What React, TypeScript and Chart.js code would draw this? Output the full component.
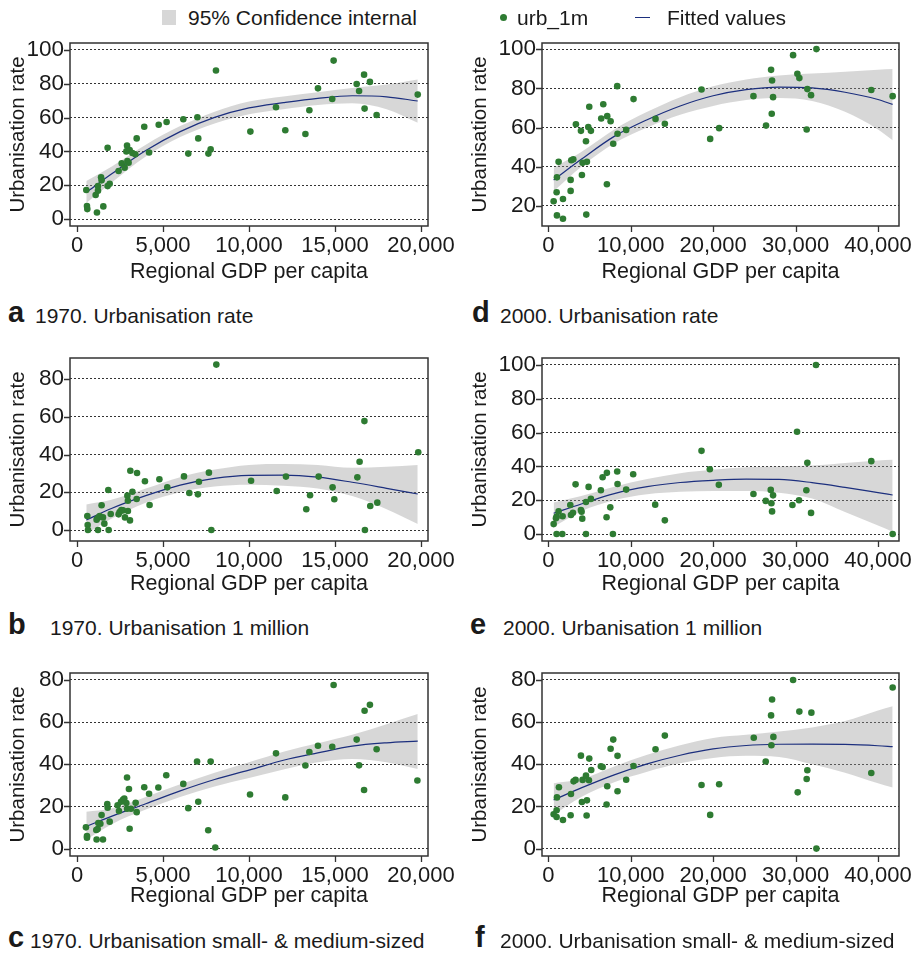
import React, { useEffect, useRef } from 'react';
import { Chart, registerables } from 'chart.js';
Chart.register(...registerables);

const FONT = "'Liberation Sans', Arial, Helvetica, sans-serif";
const GREEN = '#2e7b32';
const NAVY = '#1c2f7e';
const BAND = 'rgba(150,150,150,0.38)';
const TXT = '#1a1a1a';

// ---------- 1970 : panel a (urbanisation rate) ----------
const aGdp = [540,580,600,1085,1160,1220,1220,1400,1430,1530,1780,1780,1900,2420,2600,2770,2870,2910,2930,3000,3060,3220,3390,3470,3910,4190,4750,5210,6180,6470,7000,7050,7640,7770,8080,10080,11570,12110,13280,13510,14010,14840,14920,16260,16400,16690,16720,17030,17420,19810];
const aUrb = [17.2,7.7,5.9,14.2,3.9,16.8,19.5,24.7,22.9,7.5,42.2,19.5,20.9,28.4,32.9,30.4,40.0,43.4,34.3,33.3,40.8,39.1,38.3,47.7,54.6,39.4,55.8,57.4,59.0,38.7,60.2,47.7,38.7,41.2,87.8,51.7,66.1,52.5,50.3,64.3,77.3,71.0,93.7,79.9,75.7,85.4,65.3,81.1,61.5,73.6];
// ---------- 1970 : panel b (1 million) ----------
const bGdp = [600,620,640,1140,1220,1220,1320,1430,1510,1590,1820,1840,1960,2420,2480,2580,2670,2790,2930,2960,2960,3080,3100,3220,3470,3490,3950,4220,4790,5250,6220,6530,7030,7090,7670,7810,8100,10120,11610,12150,13330,13550,14050,14860,14960,16300,16430,16710,16740,17050,17460,19840];
const bUrb = [7.4,2.7,0,5.5,0,6.5,7.4,13.1,6.7,3.4,21.2,0,8.5,8.3,9.5,10.6,10.4,6.7,18.2,15.5,10.1,5.1,31.4,20.3,16.4,30.2,25.8,13.3,26.9,22.6,28.4,19.6,18.9,25.6,30.4,0,87.6,26.1,20.7,28.3,11.0,18.4,28.3,22.6,16.3,27.9,36.2,57.7,0,12.7,14.5,41.2];
// ---------- 1970 : panel c (small & medium) ----------
const cGdp = [520,580,580,1120,1140,1200,1240,1360,1430,1510,1760,1780,1900,2360,2440,2560,2670,2750,2870,2910,2910,3020,3060,3140,3410,3470,3910,4190,4730,5190,6180,6470,6980,7050,7630,7770,8040,10060,11570,12110,13280,13510,14010,14840,14920,16260,16400,16690,16720,17030,17420,19790];
const cUrb = [10.1,6.0,5.2,8.8,4.3,9.3,12.1,11.8,15.9,4.3,21.1,19.4,12.8,20.6,17.8,22.2,23.1,23.8,21.6,33.7,18.9,28.3,9.4,18.9,21.7,17.3,29.1,26.0,29.0,34.8,30.7,19.2,41.3,22.2,8.7,41.3,0.5,25.7,45.2,24.3,39.4,45.8,48.8,48.3,77.6,51.7,39.5,27.8,65.4,68.2,47.1,32.3];
// ---------- 2000 : panel d ----------
const dGdp = [650,1010,1050,1050,1250,1780,1780,2710,2710,2790,3030,3350,3960,4080,4160,4570,4610,4690,4850,4970,5170,6420,6670,7110,7150,7560,7880,8360,8400,9450,10340,13010,14140,18590,19640,20730,24890,26420,27030,27150,27110,27270,29700,30220,30460,31350,31430,31880,32530,39190,41780];
const dUrb = [22.4,27.0,34.6,15.2,42.5,23.6,13.5,27.7,33.3,43.3,43.8,61.7,58.3,35.8,42.0,53.0,15.6,42.5,60.3,70.6,58.3,64.6,71.9,31.1,65.8,63.2,51.7,81.1,56.8,58.8,74.5,64.4,61.9,79.4,54.2,59.7,76.0,61.0,89.4,84.0,67.0,75.5,96.9,87.4,85.2,59.0,79.6,76.5,100,79.1,76.0];
// ---------- 2000 : panel e ----------
const eGdp = [650,930,1010,1010,1250,1700,1740,2670,2750,2990,3310,3960,4040,4120,4570,4570,4890,5170,6380,6590,7070,7110,7520,7840,8360,8400,9450,10300,12970,14140,18590,19600,20690,24890,26380,26990,27070,27150,27270,29620,30180,30420,31310,31430,31880,32480,39190,41780];
const eUrb = [5.9,9.3,10.3,0,13.4,0,10.5,17.2,11.3,12.6,29.4,14.2,13.2,9.1,19.0,0,27.9,20.8,25.9,33.6,9.9,36.2,15.8,0,37.0,29.6,26.3,35.4,17.4,8.1,49.2,38.3,29.1,23.7,19.6,26.1,18.2,13.4,22.9,17.2,60.5,20.0,25.9,42.1,12.5,100,43.1,0];
// ---------- 2000 : panel f ----------
const fGdp = [650,1010,1010,1050,1290,1780,2710,2750,3070,3310,3960,4080,4160,4570,4650,4690,4930,4970,5210,6380,6590,7070,7150,7560,7880,8400,8400,9450,10340,13010,14140,18590,19640,20730,24930,26380,27030,27070,27150,27310,29700,30260,30460,31350,31430,31920,32530,39190,41780];
const fUrb = [16.3,18.2,15.0,24.3,29.1,13.6,15.8,25.9,31.9,32.6,44.1,22.1,32.6,34.6,15.7,22.9,32.4,42.7,37.3,39.1,38.7,20.9,29.6,47.4,51.7,44.0,27.2,32.7,39.2,47.1,53.6,30.2,16.0,30.5,52.6,41.3,63.2,49.0,70.7,53.0,80.0,26.7,65.0,33.0,37.2,64.5,0,35.9,76.4];

// ---------- fitted values and 95% CI ----------
const fitX70 = [540,2000,4000,6000,8000,10000,12000,14000,16000,18000,19810];
const aFit = [15.8,26.6,40.5,51.7,60.1,65.7,68.8,71.4,72.9,72.3,69.8];
const aLo = [9.5,21.5,37,48.5,56.5,62,65,67.5,68.5,65,57];
const aHi = [22.5,31,44,55,63.5,69.5,72.5,75,77.5,79.5,82.5];
const bFit = [5.3,11.4,18.2,23.8,27.4,29.0,29.1,28.0,25.3,22.1,19.1];
const bLo = [-2,6,14.5,20,23,24,23.5,22,18,11,3.2];
const bHi = [13.5,16,22,28,32,34.5,35,34.5,33,33.5,34.5];
const cFit = [10.6,15.3,21.3,27.4,32.8,37.2,41.9,45.4,48.6,50.2,51.0];
const cLo = [4.3,11.5,18.5,24.5,29.5,33.5,37.5,41,42.5,41,37.8];
const cHi = [17.5,19,24.5,30.5,36,41,46,50,54,59,63.8];

const fitX00 = [650,4000,8000,12000,16000,20000,24000,28000,32000,36000,40000,41780];
const dFit = [33.3,43.8,55.5,64,71,76.2,79.3,80.6,80.2,78,74.3,71.8];
const dLo = [27.5,40,52,60,66.5,71,74,75,73.5,68,59,53.5];
const dHi = [39.5,47.5,59,68,75.5,81,84.5,86.5,87.5,88.5,89.5,89.8];
const eFit = [12.3,17.8,23.9,28.0,30.5,31.8,32.5,32.3,30.4,27.6,24.5,23.1];
const eLo = [4.3,13.5,20,23.5,25,25.5,25.5,24.5,21,13,5,1.4];
const eHi = [18.6,22.5,28,32.5,36,38,39.5,40,40.5,42,43.5,43.9];
const fFit = [23.1,28.8,35,40.2,44.3,47.3,48.9,49.5,49.6,49.4,48.8,48.4];
const fLo = [16,24.5,31.5,36.5,40.5,43,44,43.5,40,36,31,29];
const fHi = [31,33,39,44.5,49,52.5,54,55.5,57.5,60.5,65.5,67.5];

// ---------- ticks ----------
const xTicks70 = [0,5000,10000,15000,20000];
const xTicks00 = [0,10000,20000,30000,40000];
const yTicks0to100 = [0,20,40,60,80,100];
const yTicks0to80 = [0,20,40,60,80];
const yTicks20to100 = [20,40,60,80,100];

const pts = (xs: number[], ys: number[]) => xs.map((x, i) => ({ x, y: ys[i] }));

type PanelDef = {
  x: number[]; y: number[]; fx: number[]; fit: number[]; lo: number[]; hi: number[];
  xTicks: number[]; xMin: number; xMax: number; yTicks: number[]; yMin: number; yMax: number;
  col: 0 | 1; row: 0 | 1 | 2;
};

const COLS = [
  { canvasLeft: 0, canvasWidth: 470, areaLeft: 70, areaRight: 428, yTitlePad: 6 },
  { canvasLeft: 455, canvasWidth: 460, areaLeft: 542, areaRight: 899, yTitlePad: 13.5 },
];
const ROWS = [
  { areaTop: 43, areaBottom: 226, titleY: 272 },
  { areaTop: 358, areaBottom: 541, titleY: 584 },
  { areaTop: 673, areaBottom: 856, titleY: 896 },
];

const PANELS: PanelDef[] = [
  { x: aGdp, y: aUrb, fx: fitX70, fit: aFit, lo: aLo, hi: aHi, xTicks: xTicks70, xMin: -407, xMax: 20407, yTicks: yTicks0to100, yMin: -4.1, yMax: 104.1, col: 0, row: 0 },
  { x: bGdp, y: bUrb, fx: fitX70, fit: bFit, lo: bLo, hi: bHi, xTicks: xTicks70, xMin: -407, xMax: 20407, yTicks: yTicks0to80, yMin: -5.8, yMax: 91.1, col: 0, row: 1 },
  { x: cGdp, y: cUrb, fx: fitX70, fit: cFit, lo: cLo, hi: cHi, xTicks: xTicks70, xMin: -407, xMax: 20407, yTicks: yTicks0to80, yMin: -3.5, yMax: 83.3, col: 0, row: 2 },
  { x: dGdp, y: dUrb, fx: fitX00, fit: dFit, lo: dLo, hi: dHi, xTicks: xTicks00, xMin: -764, xMax: 42550, yTicks: yTicks20to100, yMin: 9.8, yMax: 103.1, col: 1, row: 0 },
  { x: eGdp, y: eUrb, fx: fitX00, fit: eFit, lo: eLo, hi: eHi, xTicks: xTicks00, xMin: -764, xMax: 42550, yTicks: yTicks0to100, yMin: -4.1, yMax: 104.1, col: 1, row: 1 },
  { x: fGdp, y: fUrb, fx: fitX00, fit: fFit, lo: fLo, hi: fHi, xTicks: xTicks00, xMin: -764, xMax: 42550, yTicks: yTicks0to80, yMin: -3.5, yMax: 83.3, col: 1, row: 2 },
];

const framePlugin = {
  id: 'stataFrame',
  afterDraw(chart: any) {
    const { ctx, chartArea, scales } = chart;
    const { left, top, right, bottom } = chartArea;
    ctx.save();
    ctx.strokeStyle = '#333';
    ctx.lineWidth = 1.5;
    ctx.strokeRect(left, top, right - left, bottom - top);
    ctx.lineWidth = 1.3;
    ctx.beginPath();
    scales.y.ticks.forEach((t: any) => {
      const py = Math.round(scales.y.getPixelForValue(t.value)) + 0.5;
      ctx.moveTo(left - 6, py);
      ctx.lineTo(left, py);
    });
    scales.x.ticks.forEach((t: any) => {
      const px = Math.round(scales.x.getPixelForValue(t.value)) + 0.5;
      ctx.moveTo(px, bottom);
      ctx.lineTo(px, bottom + 6);
    });
    ctx.stroke();
    ctx.restore();
  },
};

function Panel({ def }: { def: PanelDef }) {
  const ref = useRef<HTMLCanvasElement>(null);
  const col = COLS[def.col];
  const row = ROWS[def.row];
  const canvasTop = row.areaTop - 13;
  const canvasBottom = Math.round(row.titleY + 16.6);
  const height = canvasBottom - canvasTop;
  useEffect(() => {
    if (!ref.current) return;
    const yAxisW = col.areaLeft - col.canvasLeft;
    const padRight = col.canvasLeft + col.canvasWidth - col.areaRight;
    const xAxisH = canvasBottom - row.areaBottom;
    const chart = new Chart(ref.current, {
      type: 'scatter',
      data: {
        datasets: [
          { type: 'scatter', data: pts(def.x, def.y), backgroundColor: GREEN, borderWidth: 0, pointRadius: 3.3, order: 0 } as any,
          { type: 'line', data: pts(def.fx, def.fit), borderColor: NAVY, borderWidth: 1.2, pointRadius: 0, fill: false, cubicInterpolationMode: 'monotone', order: 1 } as any,
          { type: 'line', data: pts(def.fx, def.hi), borderWidth: 0, borderColor: 'rgba(0,0,0,0)', backgroundColor: BAND, pointRadius: 0, fill: '+1', cubicInterpolationMode: 'monotone', order: 2 } as any,
          { type: 'line', data: pts(def.fx, def.lo), borderWidth: 0, borderColor: 'rgba(0,0,0,0)', pointRadius: 0, fill: false, cubicInterpolationMode: 'monotone', order: 3 } as any,
        ],
      },
      options: {
        animation: false,
        responsive: false,
        maintainAspectRatio: false,
        layout: { padding: { top: 13, right: padRight, left: 0, bottom: 0 } },
        plugins: { legend: { display: false }, tooltip: { enabled: false } },
        scales: {
          x: {
            type: 'linear',
            min: def.xMin,
            max: def.xMax,
            afterBuildTicks: (s: any) => { s.ticks = def.xTicks.map((v) => ({ value: v })); },
            afterFit: (s: any) => { s.height = xAxisH; s.paddingLeft = 0; s.paddingRight = 0; },
            grid: { display: false, drawTicks: false },
            border: { display: false },
            ticks: {
              padding: 7,
              autoSkip: false,
              maxRotation: 0,
              color: TXT,
              font: { family: FONT, size: 22 },
              callback: (v: any) => Number(v).toLocaleString('en-US'),
            },
            title: { display: true, text: 'Regional GDP per capita', color: TXT, font: { family: FONT, size: 21.5 }, padding: { top: 0, bottom: 4 } },
          },
          y: {
            type: 'linear',
            min: def.yMin,
            max: def.yMax,
            afterBuildTicks: (s: any) => { s.ticks = def.yTicks.map((v) => ({ value: v })); },
            afterFit: (s: any) => { s.width = yAxisW; s.paddingTop = 0; s.paddingBottom = 0; },
            grid: { color: '#333', lineWidth: 1, drawTicks: false },
            border: { display: false, dash: [2, 2] },
            ticks: { padding: 6, autoSkip: false, color: TXT, font: { family: FONT, size: 22.5 } },
            title: { display: true, text: 'Urbanisation rate', color: TXT, font: { family: FONT, size: 20.5 }, padding: { top: col.yTitlePad, bottom: 0 } },
          },
        },
      } as any,
      plugins: [framePlugin],
    });
    return () => chart.destroy();
  }, []);
  return (
    <canvas
      ref={ref}
      width={col.canvasWidth}
      height={height}
      style={{ position: 'absolute', left: col.canvasLeft, top: canvasTop, width: col.canvasWidth, height }}
    />
  );
}

function Txt({ x, base, size, bold, children }: { x: number; base: number; size: number; bold?: boolean; children: any }) {
  return (
    <div
      style={{
        position: 'absolute', left: x, top: base - 0.8465 * size, fontSize: size, lineHeight: 1,
        fontFamily: FONT, fontWeight: bold ? 700 : 400, color: TXT, whiteSpace: 'nowrap', zIndex: 2,
      }}
    >
      {children}
    </div>
  );
}

const CAPTIONS = [
  { letter: 'a', lx: 8, tx: 35, base: 322.7, text: '1970. Urbanisation rate' },
  { letter: 'b', lx: 8, tx: 50, base: 635, text: '1970. Urbanisation 1 million' },
  { letter: 'c', lx: 8, tx: 30, base: 948, text: '1970. Urbanisation small- & medium-sized' },
  { letter: 'd', lx: 472, tx: 500, base: 322.7, text: '2000. Urbanisation rate' },
  { letter: 'e', lx: 470, tx: 503, base: 635, text: '2000. Urbanisation 1 million' },
  { letter: 'f', lx: 475, tx: 500, base: 948, text: '2000. Urbanisation small- & medium-sized' },
];

export default function App() {
  return (
    <div style={{ position: 'absolute', left: 0, top: 0, width: 915, height: 957, background: '#fff', overflow: 'hidden' }}>
      {/* legend */}
      <div style={{ position: 'absolute', left: 162, top: 10, width: 14, height: 15, background: '#d7d7d7' }} />
      <Txt x={188} base={25} size={21}>95% Confidence internal</Txt>
      <div style={{ position: 'absolute', left: 499.5, top: 13.5, width: 7, height: 7, borderRadius: '50%', background: GREEN }} />
      <Txt x={517} base={25} size={21}>urb_1m</Txt>
      <div style={{ position: 'absolute', left: 635, top: 16.5, width: 15, height: 1.5, background: NAVY }} />
      <Txt x={667} base={25} size={21}>Fitted values</Txt>
      {PANELS.map((p, i) => <Panel key={i} def={p} />)}
      {CAPTIONS.map((c, i) => (
        <React.Fragment key={i}>
          <Txt x={c.lx} base={c.base} size={29} bold>{c.letter}</Txt>
          <Txt x={c.tx} base={c.base} size={21}>{c.text}</Txt>
        </React.Fragment>
      ))}
    </div>
  );
}
